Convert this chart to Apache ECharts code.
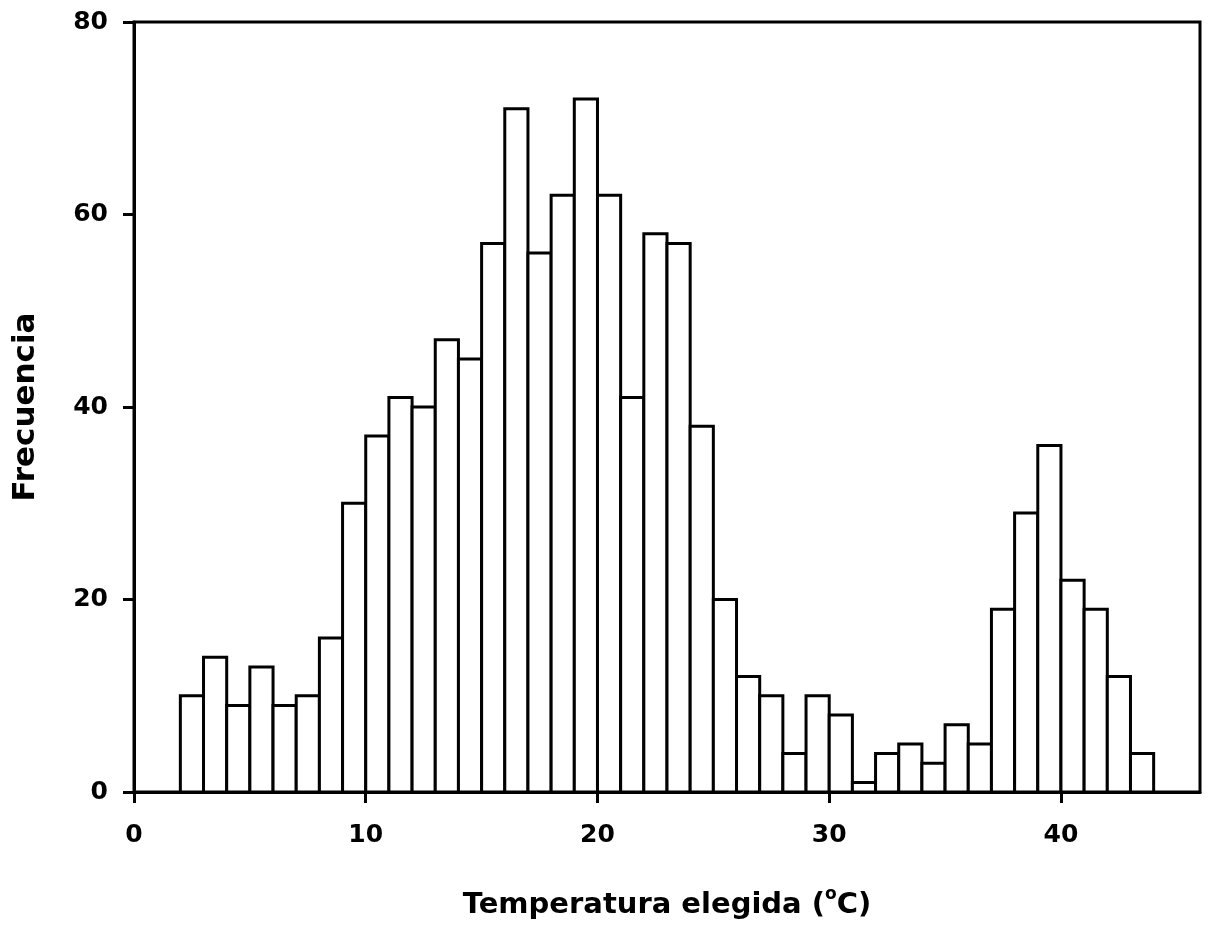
<!DOCTYPE html>
<html lang="es">
<head>
<meta charset="UTF-8">
<style>
    html, body { height: 100%; margin: 0; background: #fff; }
</style>
</head>
<body>
<div id="chart" style="width:1211px;height:929px;"></div>
<script src="https://cdn.jsdelivr.net/npm/echarts@6/dist/echarts.min.js"></script>
<script>
    // bins de 1 grado, de 2 a 44 ºC
    var binStart = [2, 3, 4, 5, 6, 7, 8, 9, 10, 11, 12, 13, 14, 15, 16, 17, 18, 19, 20, 21, 22,
                    23, 24, 25, 26, 27, 28, 29, 30, 31, 32, 33, 34, 35, 36, 37, 38, 39, 40, 41, 42, 43];
    var frecuencia = [10, 14, 9, 13, 9, 10, 16, 30, 37, 41, 40, 47, 45, 57, 71, 56, 62, 72, 62, 41, 58,
                      57, 38, 20, 12, 10, 4, 10, 8, 1, 4, 5, 3, 7, 5, 19, 29, 36, 22, 19, 12, 4];
    var xTicks = [0, 10, 20, 30, 40];
    var yTicks = [0, 20, 40, 60, 80];

    var data = binStart.map(function (s, i) { return [s, s + 1, frecuencia[i]]; });

    var font = '"DejaVu Sans", Verdana, sans-serif';
    var myChart = echarts.init(document.getElementById('chart'));
    myChart.setOption({
        animation: false,
        backgroundColor: '#fff',
        grid: {
            left: 134, right: 11, top: 22, bottom: 136,
            show: true, borderColor: '#000', borderWidth: 3
        },
        xAxis: {
            type: 'value', min: 0, max: 46,
            name: 'Temperatura elegida ({s|o}C)',
            nameLocation: 'middle', nameGap: 94,
            nameTextStyle: {
                color: '#000', fontFamily: font, fontWeight: 'bold', fontSize: 29, lineHeight: 38,
                rich: { s: { fontSize: 17, fontWeight: 'bold', fontFamily: font, color: '#000', verticalAlign: 'top', lineHeight: 17 } }
            },
            splitLine: { show: false },
            axisLine: { show: true, lineStyle: { color: '#000', width: 3 } },
            axisTick: { show: true, customValues: xTicks, length: 11, lineStyle: { color: '#000', width: 3 } },
            axisLabel: { customValues: xTicks, margin: 31, color: '#000', fontFamily: font, fontWeight: 'bold', fontSize: 25 }
        },
        yAxis: {
            type: 'value', min: 0, max: 80, interval: 20,
            name: 'Frecuencia',
            nameLocation: 'middle', nameGap: 93,
            nameTextStyle: { color: '#000', fontFamily: font, fontWeight: 'bold', fontSize: 31 },
            splitLine: { show: false },
            axisLine: { show: true, lineStyle: { color: '#000', width: 3 } },
            axisTick: { show: true, customValues: yTicks, length: 11, lineStyle: { color: '#000', width: 3 } },
            axisLabel: { customValues: yTicks, margin: 26, color: '#000', fontFamily: font, fontWeight: 'bold', fontSize: 25 }
        },
        series: [{
            type: 'custom',
            data: data,
            encode: { x: [0, 1], y: 2 },
            renderItem: function (params, api) {
                var p0 = api.coord([api.value(0), api.value(2)]);
                var p1 = api.coord([api.value(1), 0]);
                return {
                    type: 'rect',
                    shape: { x: p0[0], y: p0[1], width: p1[0] - p0[0], height: p1[1] - p0[1] },
                    style: { fill: '#fff', stroke: '#000', lineWidth: 3 }
                };
            }
        }]
    });
</script>
</body>
</html>
